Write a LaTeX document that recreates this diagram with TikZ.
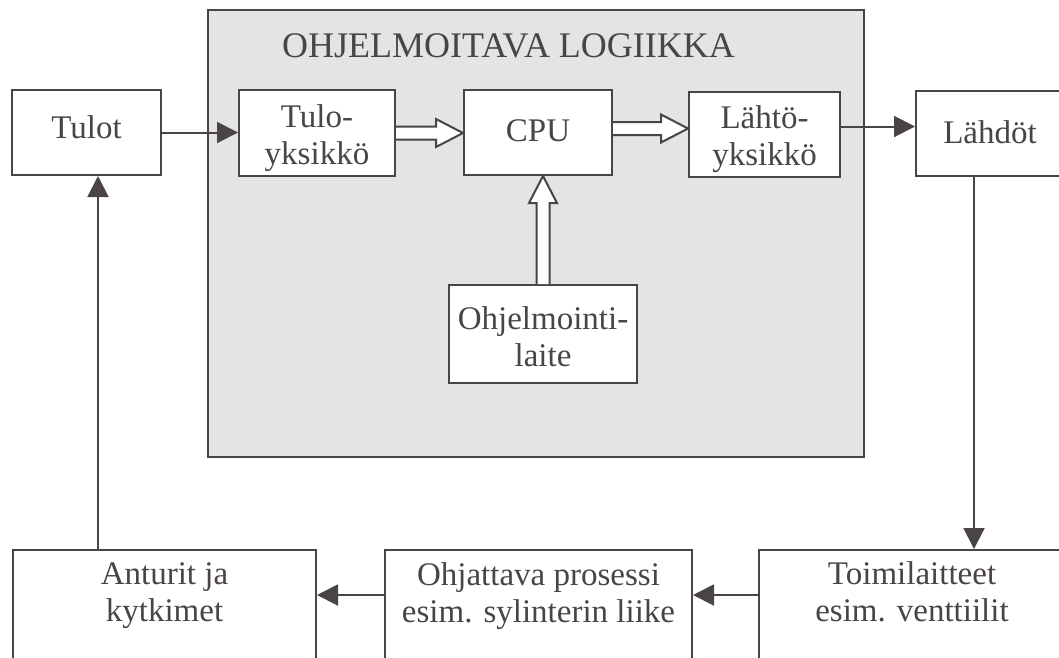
\documentclass[tikz,border=0pt]{standalone}
\usepackage{fontspec}
\setmainfont{Liberation Serif}
\usetikzlibrary{arrows.meta,calc}
\definecolor{ink}{HTML}{4A4446}
\definecolor{panel}{HTML}{E3E4E4}
% hollow (outlined) arrow from #1 to #2
\newcommand\hollowarrow[2]{%
  \path ($(#2)!27pt!(#1)$) coordinate (hbase);
  \draw[hollow] ($(#1)!6.5pt!90:(#2)$) -- ($(hbase)!6.5pt!90:(#2)$)
    -- ($(hbase)!14pt!90:(#2)$) -- (#2) -- ($(hbase)!14pt!-90:(#2)$)
    -- ($(hbase)!6.5pt!-90:(#2)$) -- ($(#1)!6.5pt!-90:(#2)$);
}
% invisible struts that nudge a label down (#1 = extra height) or up (#1 = depth)
\newcommand\lowerby[1]{\rule{0pt}{#1}}
\newcommand\raiseby[1]{\rule[-#1]{0pt}{#1}}
\begin{document}
\begin{tikzpicture}[x=1pt,y=-1pt,
  txt/.style={inner sep=0pt, align=center, text=ink, font=\fontsize{33}{37}\selectfont},
  box/.style={txt, draw=ink, line width=2pt, fill=white},
  conn/.style={draw=ink, line width=2pt, -{Triangle[length=21pt,width=21pt]}},
  hollow/.style={draw=ink, line width=2pt, fill=white, line join=miter}]
\useasboundingbox (0,0) rectangle (1059,657);
\clip (0,0) rectangle (1059,657);
\fill[white] (0,0) rectangle (1059,657);

% programmable logic panel
\node[draw=ink, line width=2pt, fill=panel, minimum width=656pt, minimum height=447pt, inner sep=0pt] (plc) at (536,233.5) {};
\node[txt, anchor=base west, font=\fontsize{36}{40}\selectfont] (title) at (282,57) {OHJELMOITAVA LOGIIKKA};

% top row
\node[box, minimum width=149pt, minimum height=85pt] (tulot) at (86.5,132.5) {Tulot\raiseby{11pt}};
\node[box, minimum width=156pt, minimum height=86pt] (tin) at (317,133) {\lowerby{33pt}Tulo-\\yksikkö};
\node[box, minimum width=148pt, minimum height=85pt] (cpu) at (538,132.5) {CPU\raiseby{3pt}};
\node[box, minimum width=151pt, minimum height=85pt] (lout) at (764.5,134.5) {\lowerby{33pt}Lähtö-\\yksikkö};
\node[box, minimum width=148pt, minimum height=85pt] (lahdot) at (990,133.5) {Lähdöt\raiseby{3pt}};
\node[box, minimum width=188pt, minimum height=98pt] (prog) at (543,334) {\lowerby{29pt}Ohjelmointi-\\laite};

% bottom row (boxes run past the lower edge)
\node[box, minimum width=303pt, minimum height=160pt] (antur) at (164.5,630) {};
\node[box, minimum width=307pt, minimum height=160pt] (ohj) at (538.5,630) {};
\node[box, minimum width=306pt, minimum height=160pt] (toim) at (912,630) {};
\node[txt, anchor=north] (anturtxt) at (164.5,562) {Anturit ja\\kytkimet};
\node[txt, anchor=north] (ohjtxt) at (538.5,562) {Ohjattava prosessi\\esim. sylinterin liike};
\node[txt, anchor=north] (toimtxt) at (912,561) {Toimilaitteet\\esim. venttiilit};

% data paths inside the logic
\coordinate (h1s) at (tin.east);
\coordinate (h1e) at (tin.east -| cpu.west);
\coordinate (h2s) at ([yshift=4pt]cpu.east);
\coordinate (h2e) at (h2s -| lout.west);
\coordinate (h3s) at (prog.north);
\coordinate (h3e) at (prog.north |- cpu.south);
\hollowarrow{h1s}{h1e}
\hollowarrow{h2s}{h2e}
\hollowarrow{h3s}{h3e}

% signal loop
\draw[conn] (tulot.east) -- (tulot.east -| tin.west);
\draw[conn] ([yshift=8pt]lout.east) -- ([yshift=8pt]lout.east -| lahdot.west);
\coordinate (dn) at ([xshift=-16pt]lahdot.south);
\draw[conn] (dn) -- (dn |- toim.north);
\coordinate (row) at (0,595);
\draw[conn] (toim.west |- row) -- (ohj.east |- row);
\draw[conn] (ohj.west |- row) -- (antur.east |- row);
\coordinate (up) at ([xshift=11.5pt]tulot.south);
\draw[conn] (up |- antur.north) -- (up);
\end{tikzpicture}
\end{document}
